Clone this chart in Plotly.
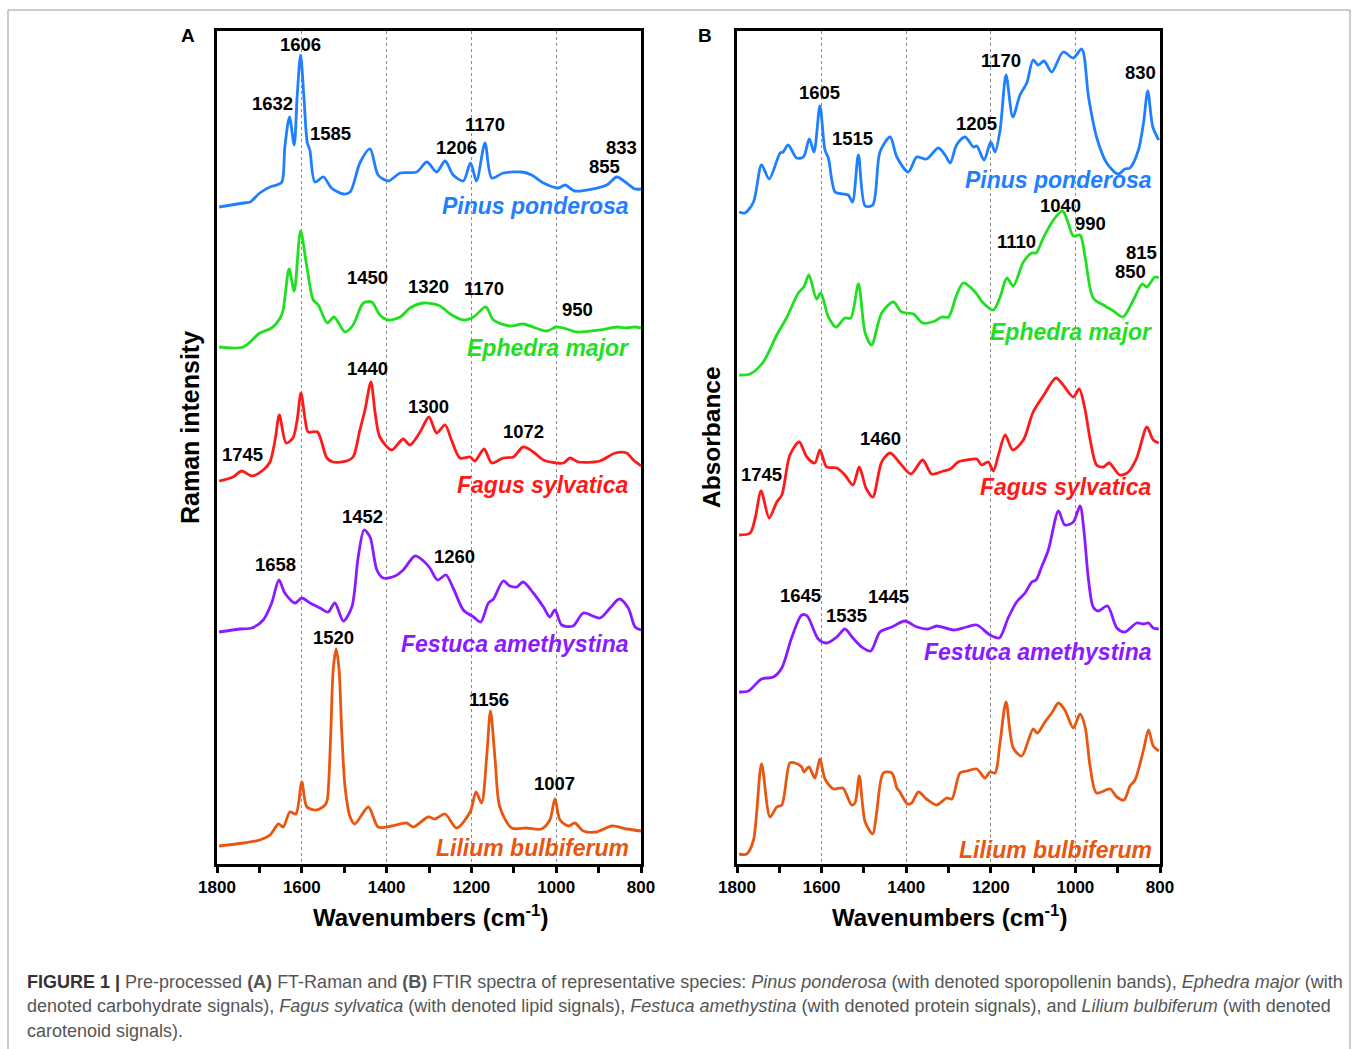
import plotly.graph_objects as go

# ---------------- data ----------------
# Panel A: FT-Raman (offset intensities, arbitrary units)
raman_pinus_wn = [1795,1738,1722,1699,1675,1659,1647,1640,1629,1618,1611,1603,1595,1587,1581,1569,1549,1530,1502,1486,1463,1439,1420,1396,1368,1329,1305,1282,1262,1243,1219,1202,1188,1168,1152,1125,1081,1058,1030,995,979,956,881,857,834,814,800]
raman_pinus = [657,661,662,671,677,679,682,717,747,719,767,809,767,721,714,682,687,676,670,672,701,715,689,683,691,692,702,692,703,689,683,701,683,721,686,691,692,689,681,676,679,673,679,687,681,675,675]

raman_ephedra_wn = [1795,1738,1699,1671,1651,1644,1630,1618,1603,1588,1573,1561,1540,1524,1498,1479,1455,1435,1416,1396,1368,1345,1313,1274,1250,1219,1195,1166,1148,1109,1078,1023,1000,975,952,897,857,834,814,800]
raman_ephedra = [517,517,531,536,546,554,595,573,633,597,564,559,541,547,532,539,561,562,549,544,547,556,561,558,550,544,547,557,544,538,540,533,537,535,532,534,537,536,537,536]

raman_fagus_wn = [1795,1762,1742,1718,1691,1675,1663,1653,1637,1621,1611,1602,1592,1585,1563,1541,1526,1494,1479,1463,1451,1437,1427,1416,1388,1361,1345,1321,1300,1282,1262,1247,1227,1203,1192,1170,1152,1125,1101,1078,1054,1030,999,983,967,948,897,861,834,818,800]
raman_fagus = [383,387,393,388,394,402,424,449,421,426,444,471,444,432,432,406,402,403,407,434,454,482,451,427,414,425,419,432,447,431,439,424,406,407,403,415,401,406,407,417,412,404,401,401,406,402,403,411,411,404,398]

raman_festuca_wn = [1795,1746,1718,1691,1671,1654,1640,1616,1600,1581,1557,1538,1522,1502,1482,1467,1453,1439,1423,1408,1380,1361,1333,1313,1298,1280,1260,1243,1219,1195,1178,1160,1148,1125,1109,1093,1078,1054,1030,1015,1003,987,960,936,897,873,851,830,814,800]
raman_festuca = [232,235,236,244,261,284,271,261,266,261,256,252,261,243,257,307,334,327,294,286,288,294,308,303,296,284,289,276,254,247,242,261,265,283,278,277,282,271,257,247,254,239,238,251,246,256,265,256,237,234]

raman_lilium_wn = [1795,1738,1699,1675,1655,1644,1628,1614,1600,1588,1565,1545,1540,1532,1526,1519,1512,1506,1498,1486,1475,1443,1420,1388,1353,1337,1302,1286,1262,1235,1203,1189,1176,1164,1155,1144,1133,1105,1070,1035,1015,1003,991,971,956,936,905,869,834,800]
raman_lilium = [18,21,24,29,40,37,52,50,82,57,54,59,64,127,194,215,194,134,77,47,40,57,37,38,41,37,47,45,50,36,52,72,61,107,153,104,57,36,36,35,44,65,44,38,41,33,32,38,35,33]

# Panel B: FTIR (offset absorbance, arbitrary units)
ftir_pinus_wn = [1795,1781,1761,1742,1724,1698,1691,1679,1659,1643,1629,1618,1604,1592,1584,1568,1549,1537,1527,1513,1497,1479,1462,1438,1422,1395,1375,1352,1324,1308,1296,1281,1261,1241,1233,1216,1200,1190,1178,1164,1148,1131,1115,1100,1088,1074,1056,1029,1005,985,969,950,926,899,883,871,851,839,829,817,803]
ftir_pinus = [652,651,662,699,685,711,712,719,706,707,725,712,758,714,706,672,670,669,662,709,658,659,712,727,707,692,707,705,716,709,701,719,727,717,718,704,722,712,734,789,747,769,781,804,799,803,792,812,806,815,767,727,701,690,695,696,714,741,773,737,724]

ftir_ephedra_wn = [1795,1769,1738,1706,1683,1655,1642,1630,1612,1602,1584,1566,1545,1531,1513,1497,1482,1458,1430,1411,1383,1361,1332,1316,1300,1281,1265,1237,1218,1194,1178,1162,1147,1123,1103,1093,1076,1052,1030,1017,1005,989,977,958,930,910,888,863,842,831,812,803]
ftir_ephedra = [489,490,502,529,546,571,577,589,565,571,547,537,546,546,580,531,519,551,562,552,550,541,543,547,547,569,581,572,561,554,567,586,578,602,611,611,626,644,653,641,628,629,607,566,558,553,547,564,580,577,587,586]

ftir_fagus_wn = [1795,1769,1757,1743,1724,1706,1694,1675,1653,1635,1616,1604,1588,1564,1545,1526,1511,1495,1479,1458,1438,1415,1389,1361,1340,1312,1296,1277,1257,1233,1222,1206,1194,1182,1166,1148,1123,1100,1076,1046,1029,1005,991,977,965,950,934,920,895,875,855,831,816,803]
ftir_fagus = [329,331,346,373,346,362,369,409,422,407,401,414,397,396,389,379,397,376,367,402,411,401,390,404,390,393,395,402,404,405,399,402,393,409,429,414,424,452,468,486,479,467,475,454,424,399,397,401,389,392,406,437,424,421]

ftir_festuca_wn = [1795,1773,1742,1714,1694,1671,1647,1634,1608,1588,1564,1545,1526,1505,1484,1462,1434,1403,1375,1348,1328,1288,1257,1233,1202,1180,1159,1139,1119,1103,1093,1080,1064,1040,1025,1005,989,980,969,958,946,924,902,883,855,839,827,816,803]
ftir_festuca = [172,173,185,187,196,226,249,248,225,221,227,235,226,217,213,232,237,243,237,235,238,234,237,239,229,226,246,262,271,282,284,297,314,353,339,342,358,334,284,257,253,258,236,232,241,240,241,236,235]

ftir_lilium_wn = [1795,1777,1761,1742,1722,1706,1694,1675,1663,1647,1642,1630,1616,1604,1592,1572,1550,1529,1521,1511,1497,1479,1470,1454,1434,1422,1415,1397,1387,1371,1352,1328,1304,1292,1273,1257,1233,1214,1202,1190,1178,1164,1147,1127,1111,1100,1090,1072,1056,1040,1025,1005,989,977,965,950,918,902,885,871,859,839,827,816,803]
ftir_lilium = [10,10,24,100,47,57,59,101,101,97,92,97,86,105,85,75,76,59,61,88,42,30,51,91,91,76,72,60,61,72,65,59,66,65,91,93,95,86,92,91,122,162,116,108,124,135,131,142,151,161,154,136,150,137,97,71,75,67,64,78,84,114,134,118,113]

species = ["Pinus ponderosa", "Ephedra major", "Fagus sylvatica", "Festuca amethystina", "Lilium bulbiferum"]
colors = ["#1f7fff", "#1fe01f", "#ff1a1a", "#8a1aff", "#e8560f"]

raman_series = [(raman_pinus_wn, raman_pinus), (raman_ephedra_wn, raman_ephedra), (raman_fagus_wn, raman_fagus),
                (raman_festuca_wn, raman_festuca), (raman_lilium_wn, raman_lilium)]
ftir_series = [(ftir_pinus_wn, ftir_pinus), (ftir_ephedra_wn, ftir_ephedra), (ftir_fagus_wn, ftir_fagus),
               (ftir_festuca_wn, ftir_festuca), (ftir_lilium_wn, ftir_lilium)]

tick_vals = [1800, 1600, 1400, 1200, 1000, 800]
minor_vals = [1700, 1500, 1300, 1100, 900]

# peak labels: (text, wavenumber position, height position)
raman_labels = [("1606", 1604, 820), ("1632", 1670, 761), ("1585", 1533, 731), ("1206", 1234, 717),
                ("1170", 1168, 740), ("833", 845, 717), ("855", 887, 698),
                ("1450", 1446, 587), ("1320", 1302, 578), ("1170", 1170, 576), ("950", 949, 555),
                ("1440", 1446, 496), ("1300", 1302, 458), ("1072", 1076, 433), ("1745", 1739, 410),
                ("1452", 1456, 348), ("1658", 1661, 300), ("1260", 1239, 308),
                ("1520", 1526, 227), ("1156", 1158, 165), ("1007", 1005, 81)]
ftir_labels = [("1605", 1604, 772), ("1515", 1526, 726), ("1205", 1233, 741), ("1170", 1176, 804), ("830", 847, 792),
               ("1040", 1036, 659), ("990", 965, 641), ("1110", 1140, 623), ("815", 843, 612), ("850", 869, 593),
               ("1460", 1460, 426), ("1745", 1741, 390),
               ("1645", 1649, 269), ("1535", 1542, 249), ("1445", 1443, 268)]
raman_name_y = [658, 516, 379, 220, 16]
ftir_name_y = [684, 532, 377, 212, 14]

# ---------------- figure ----------------
W, H = 1358, 1049
fig = go.Figure()

for (wn, val), c in zip(raman_series, colors):
    fig.add_trace(go.Scatter(x=wn, y=val, mode="lines", xaxis="x", yaxis="y",
                             line=dict(color=c, width=2.8, shape="spline", smoothing=0.8),
                             showlegend=False, hoverinfo="skip"))
for (wn, val), c in zip(ftir_series, colors):
    fig.add_trace(go.Scatter(x=wn, y=val, mode="lines", xaxis="x2", yaxis="y2",
                             line=dict(color=c, width=2.8, shape="spline", smoothing=0.8),
                             showlegend=False, hoverinfo="skip"))

def px_x(p):
    return p / W

def px_y(p):
    return 1 - p / H

ydom = [px_y(864), px_y(31)]
xaxis_common = dict(range=[1800, 800], tickvals=tick_vals, ticks="outside", ticklen=6, tickwidth=2.5,
                    tickcolor="black", showline=True, linewidth=3, linecolor="black", mirror=True,
                    showgrid=True, gridcolor="#8a8a8a", griddash="dot", gridwidth=1, zeroline=False,
                    tickfont=dict(family="Arial", size=17, color="black", weight="bold"),
                    minor=dict(tickvals=minor_vals, ticks="outside", ticklen=6, tickwidth=2.5,
                               tickcolor="black", showgrid=False))
yaxis_common = dict(range=[0, 833], showticklabels=False, ticks="", showline=True, linewidth=3,
                    linecolor="black", mirror=True, showgrid=False, zeroline=False, domain=ydom)

fig.update_layout(
    width=W, height=H, margin=dict(l=0, r=0, t=0, b=0, autoexpand=False), autosize=False,
    paper_bgcolor="white", plot_bgcolor="white", showlegend=False,
    xaxis=dict(domain=[px_x(217), px_x(641)], anchor="y", **xaxis_common),
    yaxis=dict(anchor="x", **yaxis_common),
    xaxis2=dict(domain=[px_x(737), px_x(1160)], anchor="y2", **xaxis_common),
    yaxis2=dict(anchor="x2", **yaxis_common),
)

ann = []
lab_font = dict(family="Arial", size=18.5, color="black")
for t, xw, yv in raman_labels:
    ann.append(dict(text=f"<b>{t}</b>", x=xw, y=yv, xref="x", yref="y", xanchor="center", yanchor="middle",
                    showarrow=False, font=lab_font))
for t, xw, yv in ftir_labels:
    ann.append(dict(text=f"<b>{t}</b>", x=xw, y=yv, xref="x2", yref="y2", xanchor="center", yanchor="middle",
                    showarrow=False, font=lab_font))
for name, c, yv in zip(species, colors, raman_name_y):
    ann.append(dict(text=f"<b><i>{name}</i></b>", x=823, y=yv, xref="x", yref="y", xanchor="right",
                    yanchor="middle", showarrow=False, font=dict(family="Arial", size=23, color=c)))
for name, c, yv in zip(species, colors, ftir_name_y):
    ann.append(dict(text=f"<b><i>{name}</i></b>", x=814, y=yv, xref="x2", yref="y2", xanchor="right",
                    yanchor="middle", showarrow=False, font=dict(family="Arial", size=23, color=c)))

def paper_text(text, x, y, size, angle=0, xanchor="center", color="black"):
    return dict(text=text, x=px_x(x), y=px_y(y), xref="paper", yref="paper", xanchor=xanchor,
                yanchor="middle", showarrow=False, textangle=angle,
                font=dict(family="Arial", size=size, color=color))

# panel letters
ann.append(paper_text("<b>A</b>", 188, 36, 19))
ann.append(paper_text("<b>B</b>", 705, 36, 19))
# axis titles
ann.append(paper_text("<b>Wavenumbers (cm<sup>-1</sup>)</b>", 430, 916, 24))
ann.append(paper_text("<b>Wavenumbers (cm<sup>-1</sup>)</b>", 950, 916, 24))
ann.append(paper_text("<b>Raman intensity</b>", 190, 428, 25, angle=-90))
ann.append(paper_text("<b>Absorbance</b>", 711, 437, 24.5, angle=-90))

# caption
cap_lines = [
    "<span style='color:#333333'><b>FIGURE 1 |</b></span> Pre-processed <b>(A)</b> FT-Raman and <b>(B)</b> FTIR spectra of representative species: <i>Pinus ponderosa</i> (with denoted sporopollenin bands), <i>Ephedra major</i> (with",
    "denoted carbohydrate signals), <i>Fagus sylvatica</i> (with denoted lipid signals), <i>Festuca amethystina</i> (with denoted protein signals), and <i>Lilium bulbiferum</i> (with denoted",
    "carotenoid signals).",
]
for line, yy in zip(cap_lines, (982, 1006, 1031)):
    ann.append(paper_text(line, 25, yy, 18, xanchor="left", color="#555555"))

fig.update_layout(annotations=ann)

# outer frame of the figure
fig.add_shape(type="rect", xref="paper", yref="paper", x0=px_x(8), x1=px_x(1350), y0=px_y(1060), y1=px_y(10),
              line=dict(color="#9a9a9a", width=1))

fig.write_html("out.html", config={"responsive": False})
